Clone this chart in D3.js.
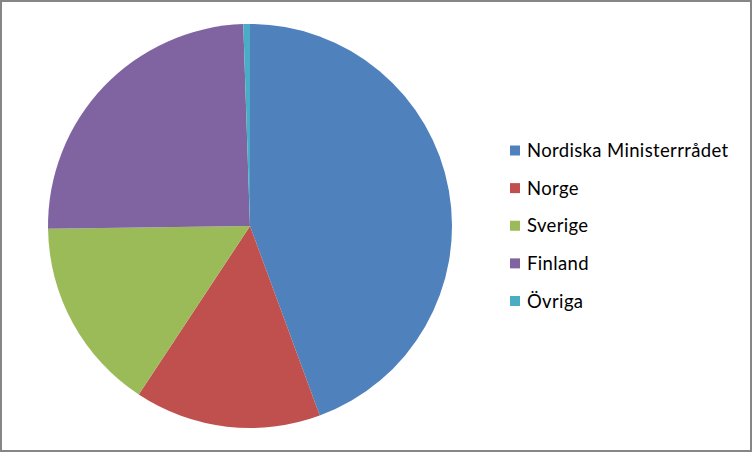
<!DOCTYPE html>
<html><head><meta charset="utf-8">
<script src="https://cdn.jsdelivr.net/npm/d3@7"></script>
<style>html,body{margin:0;padding:0;background:#fff;}svg{display:block;}</style>
</head><body>
<svg id="c" width="752" height="452"></svg>
<script>
const categories = ["Nordiska Ministerrrådet", "Norge", "Sverige", "Finland", "Övriga"];
const values = [44.4, 14.9, 15.5, 24.7, 0.53];
const colors = ["#4F81BD", "#C0504D", "#9BBB59", "#8064A2", "#4BACC6"];

const svg = d3.select("#c");
svg.append("rect").attr("x", 1).attr("y", 1).attr("width", 750).attr("height", 450)
  .attr("fill", "#fff").attr("stroke", "#868686").attr("stroke-width", 2);

const cx = 250, cy = 226, r = 202;
const pie = d3.pie().sort(null).value(d => d)(values);
const arc = d3.arc().innerRadius(0).outerRadius(r);
const color = d3.scaleOrdinal().domain(categories).range(colors);

svg.append("g").attr("transform", `translate(${cx},${cy})`)
  .selectAll("path").data(pie).join("path")
  .attr("d", arc).attr("fill", (d, i) => color(categories[i]));

const ly = d3.scalePoint().domain(categories).range([150.5, 301]);
const lg = svg.append("g").selectAll("g").data(categories).join("g")
  .attr("transform", d => `translate(510,${ly(d)})`);
lg.append("rect").attr("x", 0).attr("y", -5).attr("width", 10).attr("height", 10).attr("fill", d => color(d));
lg.append("text").attr("x", 17).attr("y", 6.5)
  .attr("font-family", "Lato, 'Open Sans', sans-serif").attr("font-size", 18.5)
  .attr("letter-spacing", 0.35)
  .attr("fill", "#000").text(d => d);
</script>
</body></html>
